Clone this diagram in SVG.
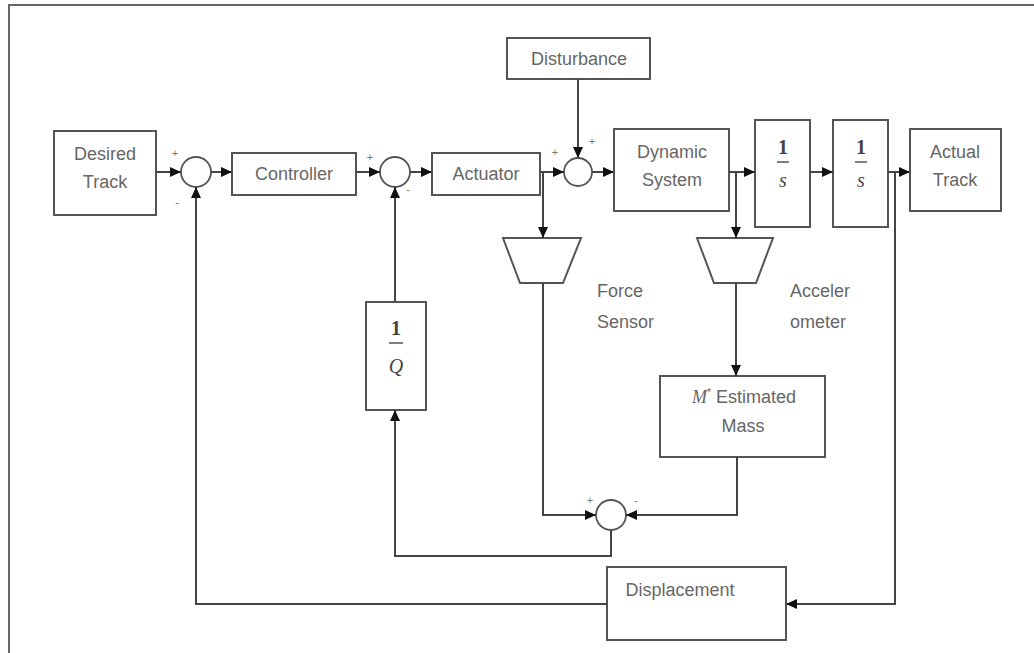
<svg xmlns="http://www.w3.org/2000/svg" width="1034" height="653" viewBox="0 0 1034 653">
<style>
.box{fill:#fff;stroke:#555;stroke-width:2}
.sum{fill:#fff;stroke:#555;stroke-width:1.8}
.lbl{font-family:"Liberation Sans",Arial,sans-serif;font-size:18px;fill:#666;text-anchor:middle}
.math{font-family:"Liberation Serif","Times New Roman",serif;font-size:20px;fill:#444;text-anchor:middle}
.sign{font-family:"Liberation Sans",Arial,sans-serif;font-size:11px;fill:#777;text-anchor:middle}
.wire{fill:none;stroke:#444;stroke-width:2}
</style>
<defs>
<marker id="ah" markerUnits="userSpaceOnUse" markerWidth="12" markerHeight="10" refX="11" refY="5" orient="auto">
<path d="M0,0 L11,5 L0,10 Z" fill="#111"/>
</marker>
</defs>
<rect x="0" y="0" width="1034" height="653" fill="#fff"/>
<path d="M9,653 L9,5 L1034,5" fill="none" stroke="#666" stroke-width="2"/>

<g id="desired-track"><rect class="box" x="54" y="131" width="102" height="84"/><text class="lbl" x="105" y="160">Desired</text><text class="lbl" x="105" y="188">Track</text></g>
<g id="sum1"><circle class="sum" cx="196" cy="172" r="15"/><text class="sign" x="175" y="157">+</text><text class="sign" x="177" y="206">-</text></g>
<g id="controller"><rect class="box" x="232" y="153" width="124" height="42"/><text class="lbl" x="294" y="180">Controller</text></g>
<g id="sum2"><circle class="sum" cx="395" cy="172" r="15"/><text class="sign" x="370" y="161">+</text><text class="sign" x="408" y="193">-</text></g>
<g id="actuator"><rect class="box" x="432" y="153" width="108" height="42"/><text class="lbl" x="486" y="180">Actuator</text></g>
<g id="disturbance"><rect class="box" x="507" y="38" width="143" height="41"/><text class="lbl" x="579" y="65">Disturbance</text></g>
<g id="sum3"><circle class="sum" cx="578" cy="172" r="14"/><text class="sign" x="555" y="156">+</text><text class="sign" x="592" y="145">+</text></g>
<g id="dynamic-system"><rect class="box" x="614" y="129" width="115" height="82"/><text class="lbl" x="672" y="158">Dynamic</text><text class="lbl" x="672" y="186">System</text></g>
<g id="integrator1"><rect class="box" x="755" y="120" width="55" height="107"/><text class="math" x="783" y="154" font-weight="bold">1</text><line x1="777" y1="162" x2="789" y2="162" stroke="#555" stroke-width="1.5"/><text class="math" x="783" y="187" font-style="italic">s</text></g>
<g id="integrator2"><rect class="box" x="833" y="120" width="55" height="107"/><text class="math" x="861" y="154" font-weight="bold">1</text><line x1="855" y1="162" x2="867" y2="162" stroke="#555" stroke-width="1.5"/><text class="math" x="861" y="187" font-style="italic">s</text></g>
<g id="actual-track"><rect class="box" x="910" y="129" width="91" height="82"/><text class="lbl" x="955" y="158">Actual</text><text class="lbl" x="955" y="186">Track</text></g>
<g id="force-sensor"><polygon class="box" points="503,238 581,238 563,283 520,283"/><text class="lbl" x="597" y="297" text-anchor="start" style="text-anchor:start">Force</text><text class="lbl" x="597" y="328" style="text-anchor:start">Sensor</text></g>
<g id="accelerometer"><polygon class="box" points="697,238 773,238 756,283 714,283"/><text class="lbl" x="790" y="297" style="text-anchor:start">Acceler</text><text class="lbl" x="790" y="328" style="text-anchor:start">ometer</text></g>
<g id="estimated-mass"><rect class="box" x="660" y="376" width="165" height="81"/><text class="lbl" x="744" y="403"><tspan font-family="Liberation Serif,serif" font-style="italic">M</tspan><tspan font-size="10" dy="-7">*</tspan><tspan dy="7"> Estimated</tspan></text><text class="lbl" x="743" y="432">Mass</text></g>
<g id="sum4"><circle class="sum" cx="611" cy="515" r="15"/><text class="sign" x="590" y="504">+</text><text class="sign" x="636" y="504">-</text></g>
<g id="inv-q"><rect class="box" x="366" y="302" width="60" height="108"/><text class="math" x="396" y="335" font-weight="bold">1</text><line x1="389" y1="343" x2="403" y2="343" stroke="#555" stroke-width="1.5"/><text class="math" x="396" y="373" font-style="italic">Q</text></g>
<g id="displacement"><rect class="box" x="607" y="567" width="179" height="73"/><text class="lbl" x="680" y="596">Displacement</text></g>

<g id="connectors">
<path class="wire" d="M156,172 H181" marker-end="url(#ah)"/>
<path class="wire" d="M211,172 H232" marker-end="url(#ah)"/>
<path class="wire" d="M356,172 H380" marker-end="url(#ah)"/>
<path class="wire" d="M410,172 H432" marker-end="url(#ah)"/>
<path class="wire" d="M540,172 H564" marker-end="url(#ah)"/>
<path class="wire" d="M578,79 V158" marker-end="url(#ah)"/>
<path class="wire" d="M592,172 H614" marker-end="url(#ah)"/>
<path class="wire" d="M729,172 H755" marker-end="url(#ah)"/>
<path class="wire" d="M810,172 H833" marker-end="url(#ah)"/>
<path class="wire" d="M888,172 H910" marker-end="url(#ah)"/>
<path class="wire" d="M543,172 V238" marker-end="url(#ah)"/>
<path class="wire" d="M736,172 V238" marker-end="url(#ah)"/>
<path class="wire" d="M736,283 V376" marker-end="url(#ah)"/>
<path class="wire" d="M543,283 V515 H596" marker-end="url(#ah)"/>
<path class="wire" d="M737,457 V515 H626" marker-end="url(#ah)"/>
<path class="wire" d="M611,530 V556 H395 V410" marker-end="url(#ah)"/>
<path class="wire" d="M395,302 V187" marker-end="url(#ah)"/>
<path class="wire" d="M895,172 V604 H786" marker-end="url(#ah)"/>
<path class="wire" d="M607,604 H196 V187" marker-end="url(#ah)"/>
</g>
</svg>
